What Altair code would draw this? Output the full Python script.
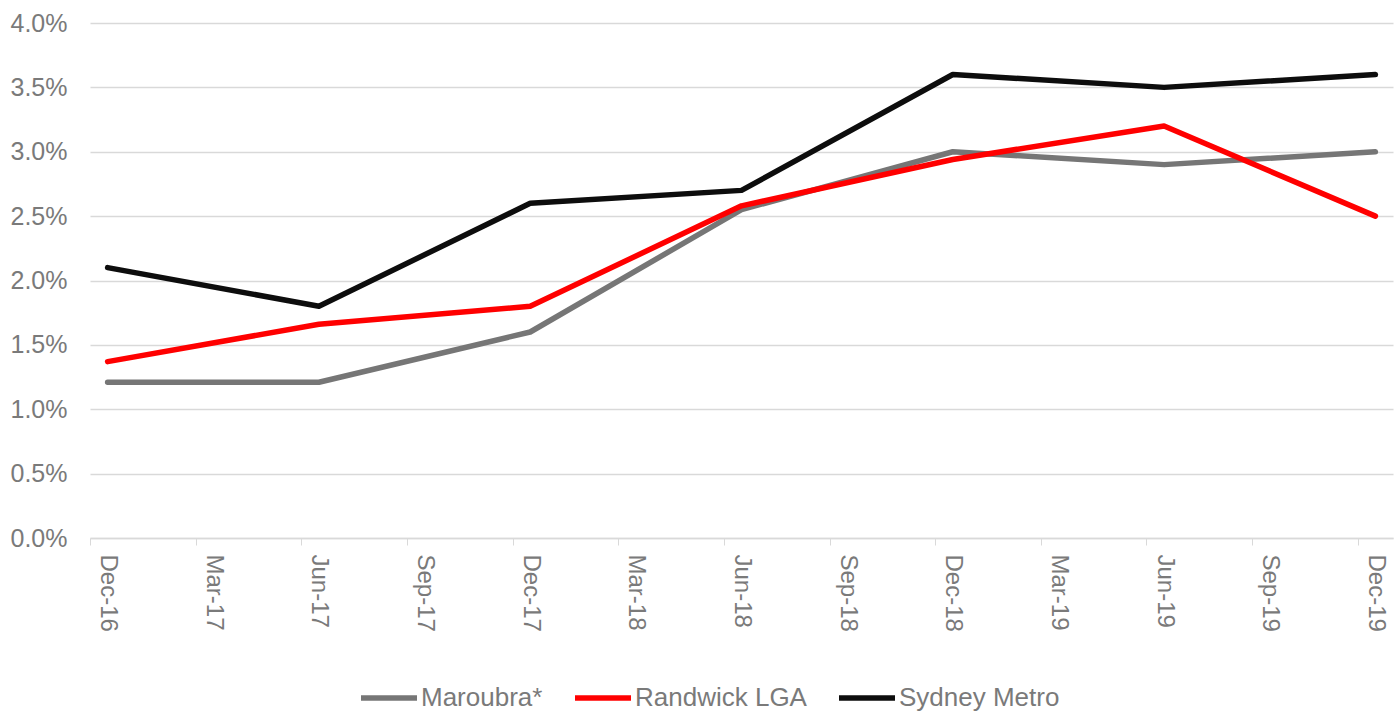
import altair as alt
import pandas as pd

quarters = ["Dec-16", "Mar-17", "Jun-17", "Sep-17", "Dec-17", "Mar-18", "Jun-18",
            "Sep-18", "Dec-18", "Mar-19", "Jun-19", "Sep-19", "Dec-19"]
points = ["Dec-16", "Jun-17", "Dec-17", "Jun-18", "Dec-18", "Jun-19", "Dec-19"]
maroubra = [1.21, 1.21, 1.60, 2.55, 3.00, 2.90, 3.00]
randwick = [1.37, 1.66, 1.80, 2.58, 2.94, 3.20, 2.50]
sydney = [2.10, 1.80, 2.60, 2.70, 3.60, 3.50, 3.60]
series = ["Maroubra*", "Randwick LGA", "Sydney Metro"]
colors = ["#767676", "#ff0000", "#0d0d0d"]

rows = []
for name, vals in zip(series, [maroubra, randwick, sydney]):
    for i, (p, v) in enumerate(zip(points, vals)):
        rows.append({"series": name, "month": quarters.index(p) * 3, "value": v / 100, "order": series.index(name)})
df = pd.DataFrame(rows)

txt = "#7a7a7a"
font = "Liberation Sans"
tick_vals = [i * 3 - 0.5 for i in range(len(quarters))]
label_expr = "[" + ",".join(f"'{q}'" for q in quarters) + "][round((datum.value + 0.5) / 3)]"

chart = alt.Chart(df).mark_line(strokeWidth=5.5, strokeCap="round", strokeJoin="round").encode(
    x=alt.X("month:Q", scale=alt.Scale(domain=[-0.5, 36.5], nice=False, zero=False),
            axis=alt.Axis(values=tick_vals, labelExpr=label_expr, labelAngle=90, labelOffset=17.6,
                          grid=False, tickSize=7, tickColor="#d9d9d9", domainColor="#d9d9d9",
                          domainWidth=1.5, labelPadding=9, labelFontSize=24, labelColor=txt,
                          labelFont=font, title=None, labelAlign="left", labelBaseline="middle")),
    y=alt.Y("value:Q", scale=alt.Scale(domain=[0, 0.04], nice=False),
            axis=alt.Axis(values=[i * 0.005 for i in range(9)], format=".1%", grid=True,
                          gridColor="#d9d9d9", gridWidth=1.5, domain=False, ticks=False,
                          labelPadding=23, labelFontSize=25, labelColor=txt, labelFont=font,
                          title=None)),
    color=alt.Color("series:N", scale=alt.Scale(domain=series, range=colors),
                    legend=alt.Legend(orient="none", legendX=268, legendY=644, direction="horizontal",
                                      columns=3, title=None, symbolType="stroke", symbolSize=3136,
                                      symbolStrokeWidth=5.5, labelFontSize=26, labelColor=txt,
                                      labelFont=font, columnPadding=21, labelOffset=1, labelLimit=0)),
    order=alt.Order("order:Q"),
    detail="series:N",
).properties(
    width=1303, height=515,
    autosize=alt.AutoSizeParams(type="none"),
    padding={"left": 90, "top": 23, "right": 7, "bottom": 173},
).configure_view(stroke=None)

chart.save("out.html", embed_options={"renderer": "svg", "actions": False})
